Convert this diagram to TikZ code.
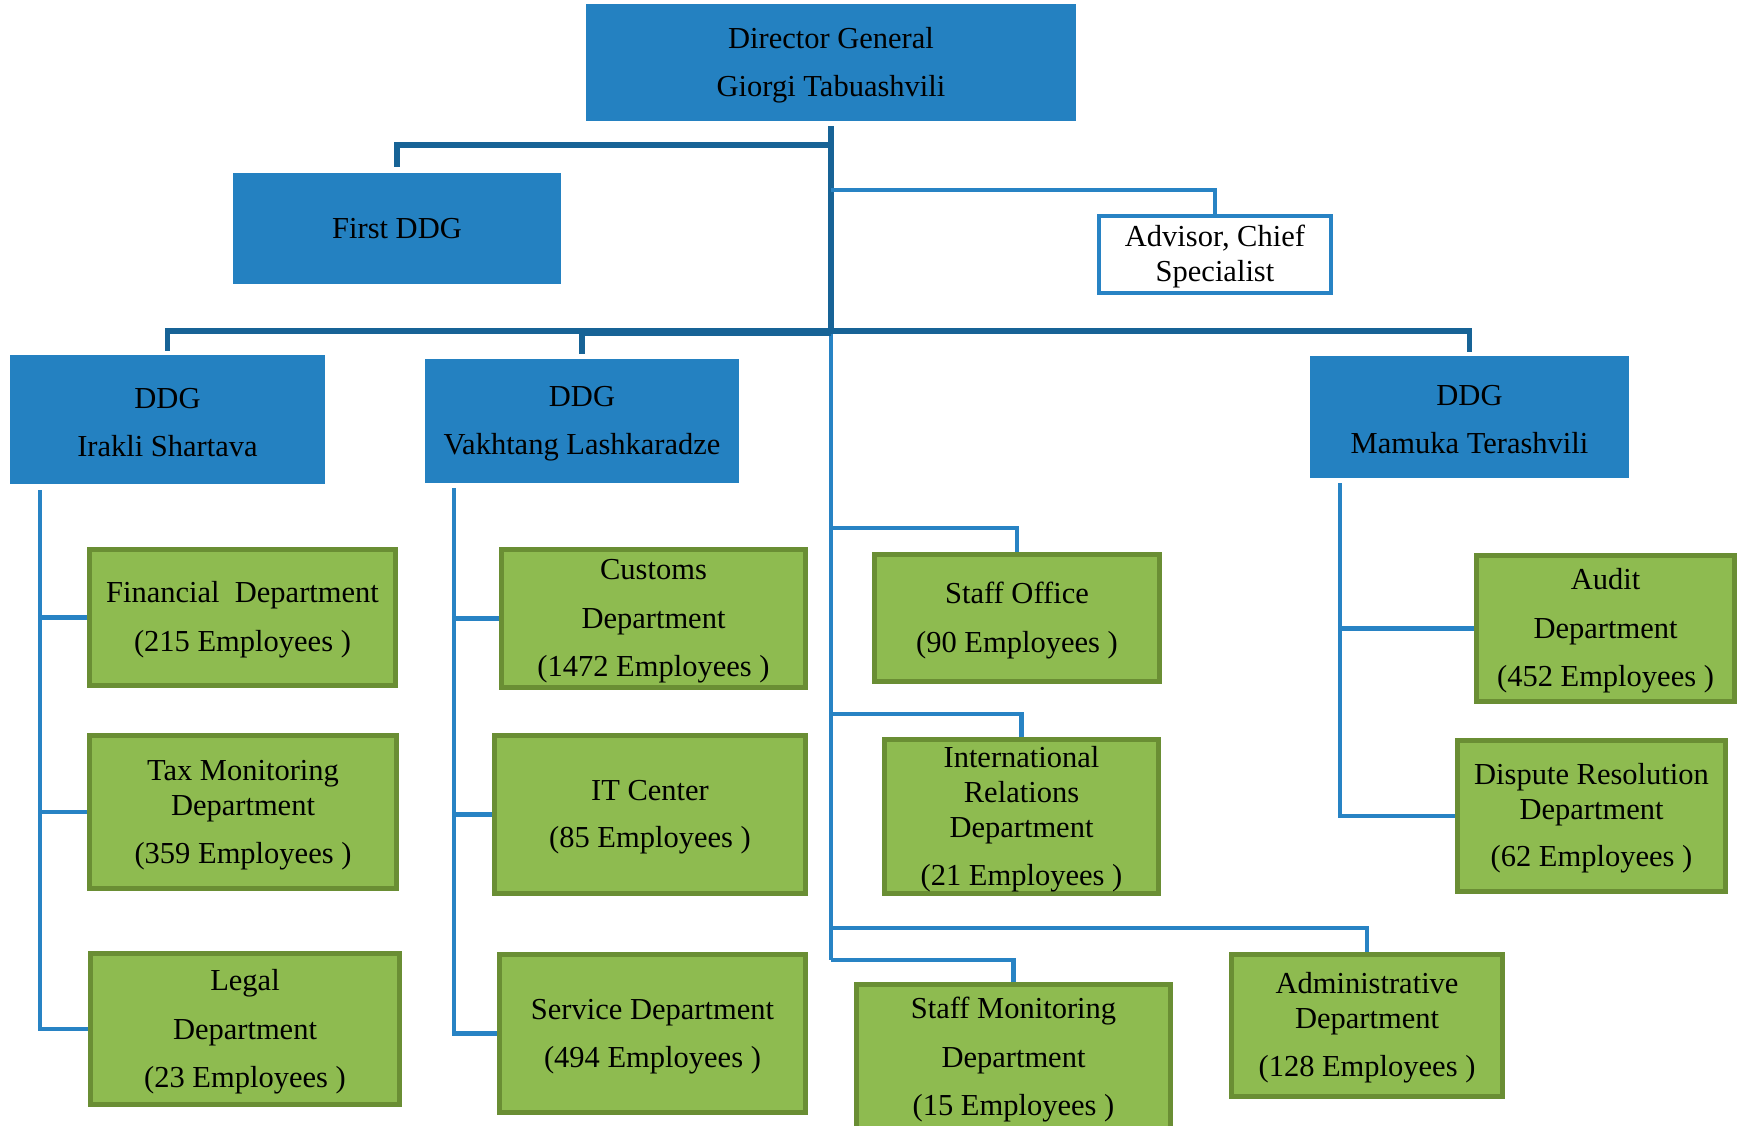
\documentclass[tikz,border=0pt]{standalone}
\usepackage{fontspec}
\setmainfont{Liberation Serif}
\definecolor{boxblue}{RGB}{36,129,193}
\definecolor{boxgreen}{RGB}{142,187,80}
\definecolor{greenborder}{RGB}{106,142,52}
\definecolor{darkline}{RGB}{23,99,150}
\definecolor{lightline}{RGB}{40,131,196}
\newcommand\sv{\rule{0pt}{26pt}}
\tikzset{
  base/.style={inner sep=0pt, align=center, text=black, font=\fontsize{30.5}{35}\selectfont},
  bluebox/.style={base, fill=boxblue, draw=none},
  advbox/.style={base, fill=white, draw=lightline, line width=4pt},
  greenbox/.style={base, fill=boxgreen, draw=greenborder, line width=5pt},
  darkconn/.style={draw=darkline, line width=5.5pt},
  lightconn/.style={draw=lightline, line width=4.5pt},
}
\begin{document}
\begin{tikzpicture}[x=1pt,y=-1pt]
\clip (0,0) rectangle (1746,1126);
\fill[white] (0,0) rectangle (1746,1126);

% top level
\node[bluebox, minimum width=490pt, minimum height=117pt] (dg) at (831,62.5) {\sv Director General\\[13pt]Giorgi Tabuashvili};
\node[bluebox, minimum width=328pt, minimum height=111pt] (fddg) at (397,228.5) {First DDG};
\node[advbox, minimum width=232pt, minimum height=77pt] (adv) at (1215,254.5) {\sv Advisor, Chief\\Specialist};

\node[bluebox, minimum width=315pt, minimum height=129pt] (ddg1) at (167.5,419.5) {\sv DDG\\[13pt]Irakli Shartava};
\node[bluebox, minimum width=314pt, minimum height=124pt] (ddg2) at (582,421) {\sv DDG\\[13pt]Vakhtang Lashkaradze};
\node[bluebox, minimum width=319pt, minimum height=122pt] (ddg3) at (1469.5,417) {\sv DDG\\[13pt]Mamuka Terashvili};

% green departments
\node[greenbox, minimum width=306pt, minimum height=136pt] (fin) at (242.5,617.5) {\sv Financial\ \ Department\\[14pt](215 Employees )};
\node[greenbox, minimum width=307pt, minimum height=153pt] (tax) at (243,812) {\sv Tax Monitoring\\Department\\[13pt](359 Employees )};
\node[greenbox, minimum width=309pt, minimum height=151pt] (legal) at (245,1029) {\sv Legal\\[14pt]Department\\[13pt](23 Employees )};

\node[greenbox, minimum width=304pt, minimum height=138pt] (cust) at (653.5,618.5) {\sv Customs\\[14pt]Department\\[13pt](1472 Employees )};
\node[greenbox, minimum width=311pt, minimum height=158pt] (itc) at (650,814.5) {\sv IT Center\\[12pt](85 Employees )};
\node[greenbox, minimum width=306pt, minimum height=158pt] (serv) at (652.5,1033.5) {\sv Service Department\\[13pt](494 Employees )};

\node[greenbox, minimum width=285pt, minimum height=127pt] (staff) at (1017,618) {\sv Staff Office\\[14pt](90 Employees )};
\node[greenbox, minimum width=274pt, minimum height=154pt] (intl) at (1021.5,816.5) {\sv International\\Relations\\Department\\[13pt](21 Employees )};
\node[greenbox, minimum width=314pt, minimum height=146pt] (smon) at (1013.5,1057) {\sv Staff Monitoring\\[14pt]Department\\[13pt](15 Employees )};
\node[greenbox, minimum width=271pt, minimum height=142pt] (adm) at (1367,1025.5) {\sv Administrative\\Department\\[13pt](128 Employees )};

\node[greenbox, minimum width=258pt, minimum height=146pt] (audit) at (1605.5,628.5) {\sv Audit\\[14pt]Department\\[13pt](452 Employees )};
\node[greenbox, minimum width=268pt, minimum height=151pt] (disp) at (1591.5,816) {\sv Dispute Resolution\\Department\\[12pt](62 Employees )};

% junction coordinates
\coordinate (jf) at (831,145);
\coordinate (ja) at (831,190);
\coordinate (t1) at (831,331);
\coordinate (js) at (831,528);
\coordinate (ji) at (831,714);
\coordinate (jad) at (831,928);
\coordinate (tend) at (831,960);
\coordinate (b1) at (40,490);
\coordinate (b2) at (454,488);
\coordinate (b3) at (1340,483);

% trunk
\draw[darkconn] ([yshift=-5pt]dg.south) -- (t1);
\draw[lightconn] (t1) -- (tend);
\draw[darkconn, shorten <=6pt] (fddg.north) |- (jf);
\draw[lightconn] (adv.north) |- (ja);
\draw[darkconn, shorten <=4pt, shorten >=4pt] (ddg1.north) |- (t1) -| (ddg3.north);
\draw[darkconn, shorten <=5pt] (ddg2.north) |- (t1);
\draw[darkline, line width=4pt] ([yshift=-3pt]ddg2.north |- t1) -- ([yshift=-3pt]t1);

% trunk branches
\draw[lightconn] (staff.north) |- (js);
\draw[lightconn] (intl.north) |- (ji);
\draw[lightconn] (adm.north) |- (jad);
\draw[lightconn] (smon.north) |- (tend);

% Irakli branch
\draw[lightconn] (b1) |- (legal.west);
\draw[lightconn] (fin.west) -| (b1);
\draw[lightconn] (tax.west) -| (b1);
% Vakhtang branch
\draw[lightconn] (b2) |- (serv.west);
\draw[lightconn] (cust.west) -| (b2);
\draw[lightconn] (itc.west) -| (b2);
% Mamuka branch
\draw[lightconn] (b3) |- (disp.west);
\draw[lightconn] (audit.west) -| (b3);
\end{tikzpicture}
\end{document}
